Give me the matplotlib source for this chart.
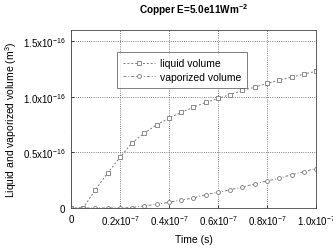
import numpy as np
import matplotlib
matplotlib.use("Agg")
import matplotlib.pyplot as plt

plt.rcParams['font.family'] = ['Liberation Sans', 'DejaVu Sans']
plt.rcParams['mathtext.default'] = 'regular'

# time in units of 1e-7 s, volumes in units of 1e-16 m^3
time = [0.0, 0.05, 0.1, 0.15, 0.2, 0.25, 0.3, 0.35, 0.4, 0.45, 0.5,
        0.55, 0.6, 0.65, 0.7, 0.75, 0.8, 0.85, 0.9, 0.95, 1.0]
liquid = [0.0, 0.0, 0.165, 0.315, 0.455, 0.587, 0.674, 0.748, 0.809, 0.86, 0.906,
          0.95, 0.985, 1.02, 1.057, 1.087, 1.12, 1.15, 1.177, 1.204, 1.23]
vapor = [0.0, 0.0, 0.0, 0.0, 0.0, 0.004, 0.02, 0.033, 0.051, 0.072, 0.09,
         0.12, 0.141, 0.164, 0.189, 0.216, 0.243, 0.267, 0.3, 0.326, 0.355]

xticks = [0, 0.2, 0.4, 0.6, 0.8, 1.0]
xlabels = ['0', '0.2x10$^{-7}$', '0.4x10$^{-7}$', '0.6x10$^{-7}$',
           '0.8x10$^{-7}$', '1.0x10$^{-7}$']
yticks = [0, 0.5, 1.0, 1.5]
ylabels = ['0', '0.5x10$^{-16}$', '1.0x10$^{-16}$', '1.5x10$^{-16}$']

fig = plt.figure(figsize=(3.33, 2.53), dpi=100)
ax = fig.add_axes([0.213, 0.174, 0.736, 0.703])

grey = '#7a7a7a'
ax.plot(time, liquid, linestyle=(0, (2, 2)), color=grey, lw=0.7,
        marker='s', ms=2.8, mfc='white', mec=grey, mew=0.6, label='liquid volume')
ax.plot(time, vapor, linestyle=(0, (3, 2, 1, 2)), color=grey, lw=0.7,
        marker='o', ms=2.8, mfc='white', mec=grey, mew=0.6, label='vaporized volume')

ax.set_xlim(0, 1.0)
ax.set_ylim(0, 1.6)
ax.set_xticks(xticks)
ax.set_xticklabels(xlabels, fontsize=7)
ax.set_yticks(yticks)
ax.set_yticklabels(ylabels, fontsize=7)
ax.tick_params(direction='in', length=2, width=0.5, pad=4)
ax.grid(True, linestyle=':', color='#555555', lw=0.6)
for s in ax.spines.values():
    s.set_linewidth(0.6)
    s.set_color('#444444')

ax.set_xlabel('Time (s)', fontsize=7.5, labelpad=5)
ax.set_ylabel('Liquid and vaporized volume (m$^3$)', fontsize=7.5, labelpad=3)
ax.set_title('Copper E=5.0e11Wm$^{-2}$', fontsize=7.2, fontweight='bold', pad=12)

leg = ax.legend(loc='upper left', bbox_to_anchor=(0.188, 0.876), borderaxespad=0,
                fontsize=7.5, frameon=True, fancybox=False, edgecolor='#444444',
                handlelength=3, borderpad=0.6, labelspacing=0.3, handletextpad=0.5)
leg.get_frame().set_linewidth(0.6)

fig.savefig('out.png', dpi=100)
